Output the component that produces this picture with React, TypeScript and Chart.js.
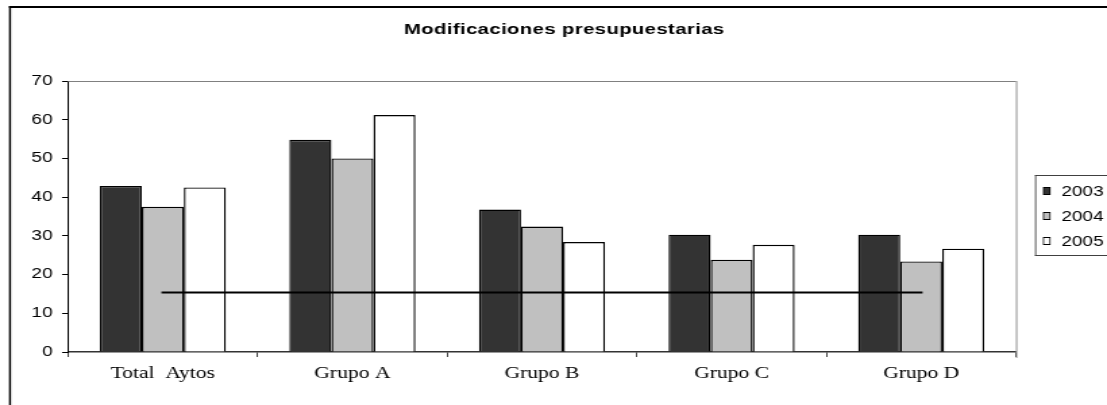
import React, { useEffect, useRef } from "react";
import { Chart, registerables } from "chart.js";

Chart.register(...registerables);

const chartTitle = "Modificaciones presupuestarias";
const categories = ["Total  Aytos", "Grupo A", "Grupo B", "Grupo C", "Grupo D"];
const seriesLabels = ["2003", "2004", "2005"];
const values2003 = [42.9, 54.8, 36.8, 30.3, 30.3];
const values2004 = [37.5, 50.0, 32.4, 23.8, 23.4];
const values2005 = [42.5, 61.2, 28.4, 27.7, 26.7];
const referenceLine = [15.4, 15.4, 15.4, 15.4, 15.4];
const seriesColors = ["#333333", "#c0c0c0", "#ffffff"];
const yMin = 0;
const yMax = 70;
const yStep = 10;

// The chart is drawn on a narrower canvas and stretched horizontally by CSS,
// reproducing the horizontally-stretched look of the reference image.
const CSS_W = 1107;
const CSS_H = 405;
const INNER_W = 820;
const SX = CSS_W / INNER_W;
const px = (cssX: number) => cssX / SX;

const SANS = "'Liberation Sans', Arial, sans-serif";
const SERIF = "'Liberation Serif', 'Times New Roman', serif";

const decorPlugin = {
  id: "decor",
  beforeDraw(chart: any) {
    const ctx = chart.ctx;
    ctx.save();
    ctx.fillStyle = "#ffffff";
    ctx.fillRect(0, 0, chart.width, chart.height);
    ctx.restore();
  },
  afterDraw(chart: any) {
    const ctx = chart.ctx;
    const a = chart.chartArea;
    ctx.save();
    // plot area border (top and right, gray)
    ctx.fillStyle = "#808080";
    ctx.fillRect(a.left, a.top, a.right - a.left, 1);
    ctx.fillRect(a.right, a.top, 1.2 / SX, a.bottom + 6 - a.top);

    // outer chart frame (top and left edges visible)
    ctx.fillStyle = "#000000";
    ctx.fillRect(px(9), 6, chart.width, 2);
    ctx.fillRect(px(9), 6, px(2), chart.height);

    // title
    ctx.fillStyle = "#000000";
    ctx.font = `bold 15px ${SANS}`;
    ctx.letterSpacing = "0.3px";
    ctx.textAlign = "left";
    ctx.textBaseline = "alphabetic";
    ctx.fillText(chartTitle, px(404), 34);
    ctx.letterSpacing = "0px";

    // legend
    const bx = px(1035);
    const by = 175;
    ctx.fillStyle = "#404040";
    ctx.fillRect(bx, by, chart.width, 1);
    ctx.fillRect(bx, by + 80, chart.width, 1);
    ctx.fillRect(bx, by, 1.2 / SX, 81);
    ctx.font = `14px ${SANS}`;
    const bars = chart.data.datasets.filter((d: any) => d.type !== "line");
    bars.forEach((ds: any, i: number) => {
      const cy = 191 + i * 25;
      const sx0 = px(1043);
      const sw = px(7.5);
      ctx.fillStyle = "#000000";
      ctx.fillRect(sx0, cy - 4, sw, 8);
      ctx.fillStyle = ds.backgroundColor;
      ctx.fillRect(sx0 + 1 / SX, cy - 3, sw - 2 / SX, 6);
      ctx.fillStyle = "#000000";
      ctx.fillText(ds.label, px(1061.5), cy + 5);
    });
    ctx.restore();
  },
};

export default function App() {
  const canvasRef = useRef<HTMLCanvasElement | null>(null);

  useEffect(() => {
    document.body.style.margin = "0";
    const canvas = canvasRef.current;
    if (!canvas) return;
    const seriesValues = [values2003, values2004, values2005];
    const chart = new Chart(canvas, {
      type: "bar",
      data: {
        labels: categories,
        datasets: [
          ...seriesLabels.map((label, i) => ({
            type: "bar" as const,
            label,
            data: seriesValues[i],
            backgroundColor: seriesColors[i],
            borderColor: "#000000",
            borderWidth: 1.4,
            barPercentage: 1,
            categoryPercentage: 0.665,
            order: 1,
          })),
          {
            type: "line" as const,
            label: "Referencia",
            data: referenceLine,
            borderColor: "#000000",
            borderWidth: 2,
            borderCapStyle: "square",
            pointRadius: 0,
            fill: false,
            order: 0,
          } as any,
        ],
      },
      options: {
        responsive: false,
        animation: false,
        devicePixelRatio: 1,
        layout: { padding: { top: 81, right: INNER_W - px(1016), left: 0, bottom: 0 } },
        plugins: {
          legend: { display: false },
          title: { display: false },
          tooltip: { enabled: false },
        },
        scales: {
          x: {
            offset: true,
            grid: {
              display: true,
              offset: true,
              drawOnChartArea: false,
              drawTicks: true,
              tickLength: 5,
              color: "#000000",
              lineWidth: 1 / SX,
            },
            border: { display: true, color: "#333333", width: 1.4 },
            ticks: {
              color: "#000000",
              font: { family: SERIF, size: 16 },
              padding: 7,
              maxRotation: 0,
              autoSkip: false,
            },
            afterFit: (s: any) => {
              s.height = CSS_H - 352;
            },
          },
          y: {
            min: yMin,
            max: yMax,
            ticks: {
              stepSize: yStep,
              color: "#000000",
              font: { family: SANS, size: 14 },
              padding: 7,
            },
            grid: {
              drawOnChartArea: false,
              drawTicks: true,
              tickLength: px(6),
              color: "#000000",
            },
            border: { display: true, color: "#000000", width: 1 },
            afterFit: (s: any) => {
              s.width = px(68);
            },
          },
        },
      },
      plugins: [decorPlugin],
    } as any);
    return () => chart.destroy();
  }, []);

  return (
    <canvas
      ref={canvasRef}
      width={INNER_W}
      height={CSS_H}
      style={{ display: "block", width: `${CSS_W}px`, height: `${CSS_H}px` }}
    />
  );
}
